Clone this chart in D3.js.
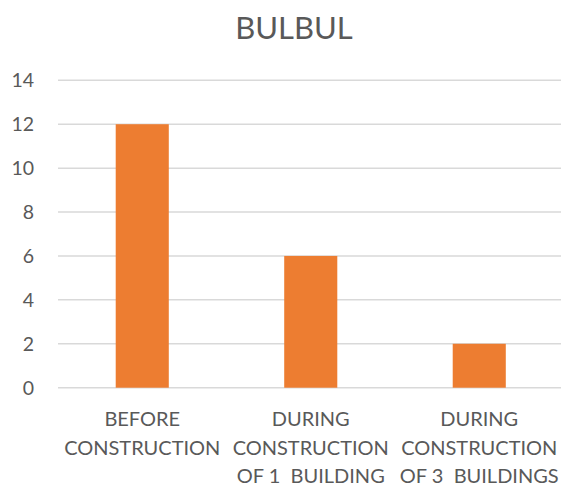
<!DOCTYPE html>
<head>
<meta charset="utf-8">
<style>
  body { margin: 0; background: #fff; }
  text { font-family: Lato, "Open Sans", sans-serif; fill: #595959; white-space: pre; }
  .grid line { stroke: #d9d9d9; stroke-width: 1.5; }
</style>
</head>
<body>
<svg width="561" height="488"></svg>
<script src="https://d3js.org/d3.v7.min.js"></script>
<script>
var categories = ["BEFORE CONSTRUCTION", "DURING CONSTRUCTION OF 1 BUILDING", "DURING CONSTRUCTION OF 3 BUILDINGS"];
var labelLines = [
  ["BEFORE", "CONSTRUCTION"],
  ["DURING", "CONSTRUCTION", "OF 1  BUILDING"],
  ["DURING", "CONSTRUCTION", "OF 3  BUILDINGS"]
];
var values = [12, 6, 2];
var yTicks = [0, 2, 4, 6, 8, 10, 12, 14];
var title = "BULBUL";

var svg = d3.select("svg");

var x = d3.scaleBand()
    .domain(categories)
    .range([58, 563.5])
    .paddingInner(0.685)
    .paddingOuter(0.3425);

var y = d3.scaleLinear()
    .domain([0, 14])
    .range([387.7, 80.3]);

svg.append("text")
    .attr("x", 294)
    .attr("y", 38.5)
    .attr("text-anchor", "middle")
    .style("font-size", "31px")
    .text(title);

svg.append("g")
    .attr("class", "grid")
  .selectAll("line")
  .data(yTicks)
  .enter().append("line")
    .attr("x1", 58)
    .attr("x2", 561)
    .attr("y1", function(d) { return y(d); })
    .attr("y2", function(d) { return y(d); });

svg.append("g")
  .selectAll("text")
  .data(yTicks)
  .enter().append("text")
    .attr("x", 34)
    .attr("y", function(d) { return y(d); })
    .attr("dy", "0.36em")
    .attr("text-anchor", "end")
    .style("font-size", "19.5px")
    .text(function(d) { return d; });

svg.append("g")
  .selectAll("rect")
  .data(values)
  .enter().append("rect")
    .attr("x", function(d, i) { return x(categories[i]); })
    .attr("width", x.bandwidth())
    .attr("y", function(d) { return y(d); })
    .attr("height", function(d) { return y(0) - y(d); })
    .attr("fill", "#ed7d31");

var labels = svg.append("g")
  .selectAll("text")
  .data(labelLines)
  .enter().append("text")
    .attr("text-anchor", "middle")
    .style("font-size", "20px")
    .attr("transform", function(d, i) {
        return "translate(" + (x(categories[i]) + x.bandwidth() / 2) + ",0)";
    });

labels.selectAll("tspan")
  .data(function(d) { return d; })
  .enter().append("tspan")
    .attr("x", 0)
    .attr("y", function(d, j) { return 426 + j * 28.5; })
    .text(function(d) { return d; });
</script>
</body>
